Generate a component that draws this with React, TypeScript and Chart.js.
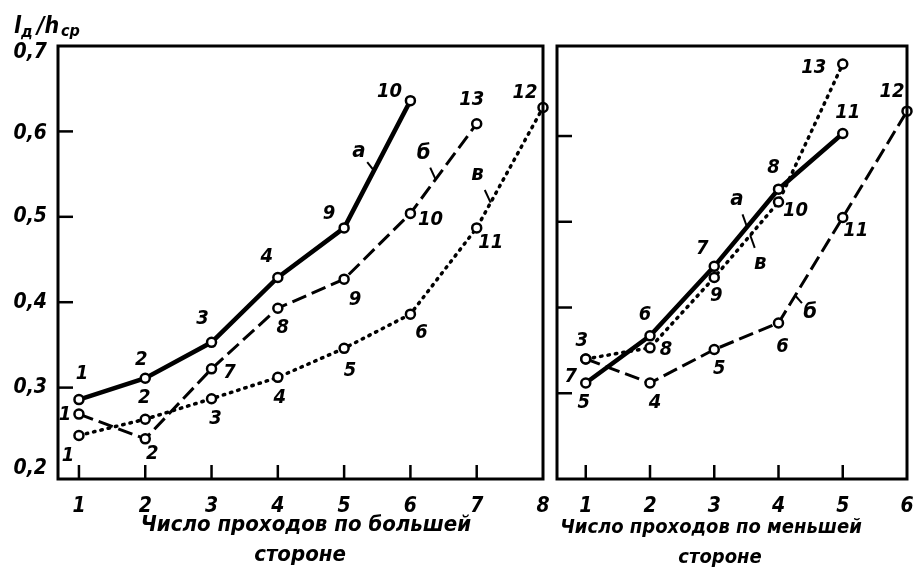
import React, { useEffect, useRef } from "react";
import { Chart, registerables } from "chart.js";

Chart.register(...registerables);

// ---------- data: left panel (по большей стороне) ----------
const leftTickLabels = [1, 2, 3, 4, 5, 6, 7, 8];
const leftYTicks = [0.2, 0.3, 0.4, 0.5, 0.6, 0.7];

const leftAX = [1, 2, 3, 4, 5, 6];
const leftAY = [0.286, 0.311, 0.353, 0.429, 0.487, 0.636];
const leftALabels = ["1", "2", "3", "4", "9", "10"];

const leftBX = [1, 2, 3, 4, 5, 6, 7];
const leftBY = [0.269, 0.24, 0.322, 0.393, 0.427, 0.504, 0.609];
const leftBLabels = ["1", "2", "7", "8", "9", "10", "13"];

const leftVX = [1, 2, 3, 4, 5, 6, 7, 8];
const leftVY = [0.244, 0.263, 0.287, 0.312, 0.346, 0.386, 0.487, 0.628];
const leftVLabels = ["1", "2", "3", "4", "5", "6", "11", "12"];

// ---------- data: right panel (по меньшей стороне) ----------
const rightTickLabels = [1, 2, 3, 4, 5, 6];
const rightYTicks = [0.3, 0.4, 0.5, 0.6];

const rightAX = [1, 2, 3, 4, 5];
const rightAY = [0.312, 0.367, 0.448, 0.538, 0.603];
const rightALabels = ["5", "6", "7", "8", "11"];

const rightBX = [1, 2, 3, 4, 5, 6];
const rightBY = [0.34, 0.312, 0.351, 0.382, 0.505, 0.629];
const rightBLabels = ["", "4", "5", "6", "11", "12"];

const rightVX = [1, 2, 3, 4, 5];
const rightVY = [0.34, 0.353, 0.435, 0.523, 0.684];
const rightVLabels = ["3", "8", "9", "10", "13"];

const curveNames = ["а", "б", "в"];
const leftTitle = ["Число проходов по большей", "стороне"];
const rightTitle = ["Число проходов по меньшей", "стороне"];

// ---------- layout / style (label offsets in px) ----------
const leftAOff = [[3, -26], [-4, -18], [-9, -24], [-11, -21], [-15, -14], [-21, -9]];
const leftBOff = [[-14, 1], [7, 15], [18, 4], [5, 20], [11, 21], [20, 6], [-5, -24]];
const leftVOff = [[-11, 20], [-1, -21], [4, 20], [2, 20], [6, 22], [11, 19], [14, 15], [-18, -15]];
const rightAOff = [[-2, 20], [-5, -21], [-12, -18], [-5, -21], [5, -21]];
const rightBOff = [[0, 0], [5, 20], [5, 19], [4, 24], [13, 13], [-15, -19]];
const rightVOff = [[-4, -18], [16, 2], [2, 18], [17, 9], [-29, 4]];
// extra label on first point of right "а" curve
const rightExtra = { series: 0, index: 0, text: "7", dx: -15, dy: -6 };
// vertical nudges of y tick labels (0,2 … 0,7)
const leftYLabelShift = [-4, 0, 0, 0, 2, 7];

// curve-name markers: anchor x (on the line) + text offset
const leftCurveMarks = [
  { series: 0, at: 5.45, dx: -15, dy: -19 },
  { series: 1, at: 6.38, dx: -12, dy: -26 },
  { series: 2, at: 7.21, dx: -13, dy: -28 },
];
const rightCurveMarks = [
  { series: 0, at: 3.51, dx: -10, dy: -28 },
  { series: 1, at: 4.26, dx: 15, dy: 17 },
  { series: 2, at: 3.56, dx: 10, dy: 28 },
];

const FONT = "'DejaVu Sans Condensed', 'DejaVu Sans', sans-serif";

const styles = {
  solid: { borderWidth: 4.5, borderDash: [] as number[], borderCapStyle: "butt" },
  dash: { borderWidth: 3, borderDash: [15, 6], borderCapStyle: "butt" },
  dot: { borderWidth: 3.5, borderDash: [1.5, 6], borderCapStyle: "round" },
};

function mkDataset(xs: number[], ys: number[], kind: "solid" | "dash" | "dot") {
  const st = styles[kind];
  return {
    data: xs.map((x, i) => ({ x, y: ys[i] })),
    borderColor: "#000",
    borderWidth: st.borderWidth,
    borderDash: st.borderDash,
    borderCapStyle: st.borderCapStyle,
    pointRadius: 4.5,
    pointBorderWidth: 2.5,
    pointBackgroundColor: "#fff",
    pointBorderColor: "#000",
    tension: 0,
    clip: false,
    fill: false,
  };
}

const decorPlugin = {
  id: "decor",
  afterDatasetsDraw(chart: any, _args: any, opts: any) {
    const ctx = chart.ctx as CanvasRenderingContext2D;
    const { left, top, right, bottom } = chart.chartArea;
    const xs = chart.scales.x;
    const ys = chart.scales.y;
    ctx.save();
    ctx.strokeStyle = "#000";
    ctx.fillStyle = "#000";
    ctx.setLineDash([]);
    // frame
    ctx.lineWidth = 3;
    ctx.strokeRect(left, top, right - left, bottom - top);
    // inward tick marks
    ctx.lineWidth = 2.5;
    (opts.xMarks as number[]).forEach((v) => {
      const px = xs.getPixelForValue(v);
      ctx.beginPath();
      ctx.moveTo(px, bottom);
      ctx.lineTo(px, bottom - 14);
      ctx.stroke();
    });
    (opts.yMarks as number[]).forEach((v) => {
      const py = ys.getPixelForValue(v);
      ctx.beginPath();
      ctx.moveTo(left, py);
      ctx.lineTo(left + 15, py);
      ctx.stroke();
    });
    // y tick labels
    if (opts.yLabels) {
      ctx.font = `italic bold 21px ${FONT}`;
      ctx.textAlign = "right";
      ctx.textBaseline = "middle";
      (opts.yLabels as number[]).forEach((v, i) => {
        const py = ys.getPixelForValue(v) + opts.yShift[i];
        ctx.fillText(v.toFixed(1).replace(".", ","), left - 11, py);
      });
    }
    // point labels
    ctx.font = `italic bold 20px ${FONT}`;
    ctx.textAlign = "center";
    ctx.textBaseline = "middle";
    (opts.labels as { texts: string[]; offs: number[][] }[]).forEach((s, i) => {
      const meta = chart.getDatasetMeta(i);
      s.texts.forEach((t, j) => {
        if (!t) return;
        const el = meta.data[j];
        ctx.fillText(t, el.x + s.offs[j][0], el.y + s.offs[j][1]);
      });
    });
    if (opts.extra) {
      const e = opts.extra;
      const el = chart.getDatasetMeta(e.series).data[e.index];
      ctx.fillText(e.text, el.x + e.dx, el.y + e.dy);
    }
    // curve names with leader strokes
    ctx.font = `italic bold 22px ${FONT}`;
    (opts.curves as any[]).forEach((c, k) => {
      const meta = chart.getDatasetMeta(c.series);
      const pts = meta.data;
      const px = xs.getPixelForValue(c.at);
      let ay = pts[0].y;
      for (let j = 0; j < pts.length - 1; j++) {
        if (px >= pts[j].x && px <= pts[j + 1].x) {
          const t = (px - pts[j].x) / (pts[j + 1].x - pts[j].x);
          ay = pts[j].y + t * (pts[j + 1].y - pts[j].y);
        }
      }
      const tx = px + c.dx;
      const ty = ay + c.dy;
      ctx.lineWidth = 2;
      ctx.beginPath();
      ctx.moveTo(px, ay);
      ctx.lineTo(px + c.dx * 0.45, ay + c.dy * 0.45);
      ctx.stroke();
      ctx.fillText(curveNames[k], tx, ty);
    });
    // axis title
    ctx.font = `italic bold ${opts.titleSize}px ${FONT}`;
    const [l1, l2] = opts.title as string[];
    ctx.fillText(l1, opts.titleX, opts.titleY);
    ctx.fillText(l2, opts.titleX2, opts.titleY + 30);
    // y-axis quantity label
    if (opts.yTitle) {
      ctx.textAlign = "left";
      ctx.textBaseline = "alphabetic";
      ctx.font = `italic bold 23px ${FONT}`;
      ctx.fillText("l", 14, 33);
      ctx.font = `italic bold 16px ${FONT}`;
      ctx.fillText("д", 21, 37);
      ctx.font = `italic bold 23px ${FONT}`;
      ctx.fillText("/h", 37, 33);
      ctx.font = `italic bold 16px ${FONT}`;
      ctx.fillText("ср", 61, 36);
    }
    ctx.restore();
  },
};

function makeConfig(p: any) {
  return {
    type: "line",
    data: { datasets: p.datasets },
    plugins: [decorPlugin],
    options: {
      animation: false,
      responsive: false,
      maintainAspectRatio: false,
      events: [],
      layout: { padding: p.padding },
      plugins: {
        legend: { display: false },
        tooltip: { enabled: false },
        decor: p.decor,
      },
      scales: {
        x: {
          type: "linear",
          min: p.xMin,
          max: p.xMax,
          grid: { display: false },
          border: { display: false },
          afterBuildTicks: (s: any) => {
            s.ticks = p.xTicks.map((v: number) => ({ value: v }));
          },
          afterFit: (s: any) => {
            s.height = 90;
            s.paddingLeft = 0;
            s.paddingRight = 0;
          },
          ticks: {
            autoSkip: false,
            maxRotation: 0,
            padding: 7,
            color: "#000",
            font: { family: FONT, size: 21, style: "italic", weight: "bold" },
            callback: (v: number) => String(v),
          },
        },
        y: {
          type: "linear",
          display: p.yDisplay,
          min: p.yMin,
          max: p.yMax,
          grid: { display: false },
          border: { display: false },
          afterBuildTicks: (s: any) => {
            s.ticks = p.yTicks.map((v: number) => ({ value: v }));
          },
          afterFit: (s: any) => {
            s.width = p.yDisplay ? 58 : 0;
            s.paddingTop = 0;
            s.paddingBottom = 0;
          },
          ticks: { display: false },
        },
      },
    },
  };
}

export default function App() {
  const leftRef = useRef<HTMLCanvasElement>(null);
  const rightRef = useRef<HTMLCanvasElement>(null);

  useEffect(() => {
    const left = new Chart(
      leftRef.current as HTMLCanvasElement,
      makeConfig({
        datasets: [
          mkDataset(leftAX, leftAY, "solid"),
          mkDataset(leftBX, leftBY, "dash"),
          mkDataset(leftVX, leftVY, "dot"),
        ],
        padding: { left: 0, top: 46, right: 6, bottom: 0 },
        xMin: 0.684,
        xMax: 8,
        xTicks: leftTickLabels,
        yMin: 0.193,
        yMax: 0.7,
        yTicks: leftYTicks,
        yDisplay: true,
        decor: {
          xMarks: leftTickLabels.slice(0, 7),
          yMarks: leftYTicks.slice(1, 5),
          yLabels: leftYTicks,
          yShift: leftYLabelShift,
          labels: [
            { texts: leftALabels, offs: leftAOff },
            { texts: leftBLabels, offs: leftBOff },
            { texts: leftVLabels, offs: leftVOff },
          ],
          curves: leftCurveMarks,
          title: leftTitle,
          titleSize: 22,
          titleX: 306,
          titleX2: 300,
          titleY: 525,
          yTitle: true,
        },
      }) as any
    );
    const right = new Chart(
      rightRef.current as HTMLCanvasElement,
      makeConfig({
        datasets: [
          mkDataset(rightAX, rightAY, "solid"),
          mkDataset(rightBX, rightBY, "dash"),
          mkDataset(rightVX, rightVY, "dot"),
        ],
        padding: { left: 7, top: 46, right: 4, bottom: 0 },
        xMin: 0.5525,
        xMax: 6,
        xTicks: rightTickLabels,
        yMin: 0.2,
        yMax: 0.705,
        yTicks: rightYTicks,
        yDisplay: false,
        decor: {
          xMarks: rightTickLabels.slice(0, 5),
          yMarks: rightYTicks,
          labels: [
            { texts: rightALabels, offs: rightAOff },
            { texts: rightBLabels, offs: rightBOff },
            { texts: rightVLabels, offs: rightVOff },
          ],
          extra: rightExtra,
          curves: rightCurveMarks,
          title: rightTitle,
          titleSize: 20,
          titleX: 161,
          titleX2: 170,
          titleY: 528,
          yTitle: false,
        },
      }) as any
    );
    return () => {
      left.destroy();
      right.destroy();
    };
  }, []);

  return (
    <div
      style={{
        position: "fixed",
        left: 0,
        top: 0,
        width: 914,
        height: 569,
        background: "#fff",
        overflow: "hidden",
      }}
    >
      <canvas
        ref={leftRef}
        width={550}
        height={569}
        style={{ position: "absolute", left: 0, top: 0, width: 550, height: 569 }}
      />
      <canvas
        ref={rightRef}
        width={364}
        height={569}
        style={{ position: "absolute", left: 550, top: 0, width: 364, height: 569 }}
      />
    </div>
  );
}
